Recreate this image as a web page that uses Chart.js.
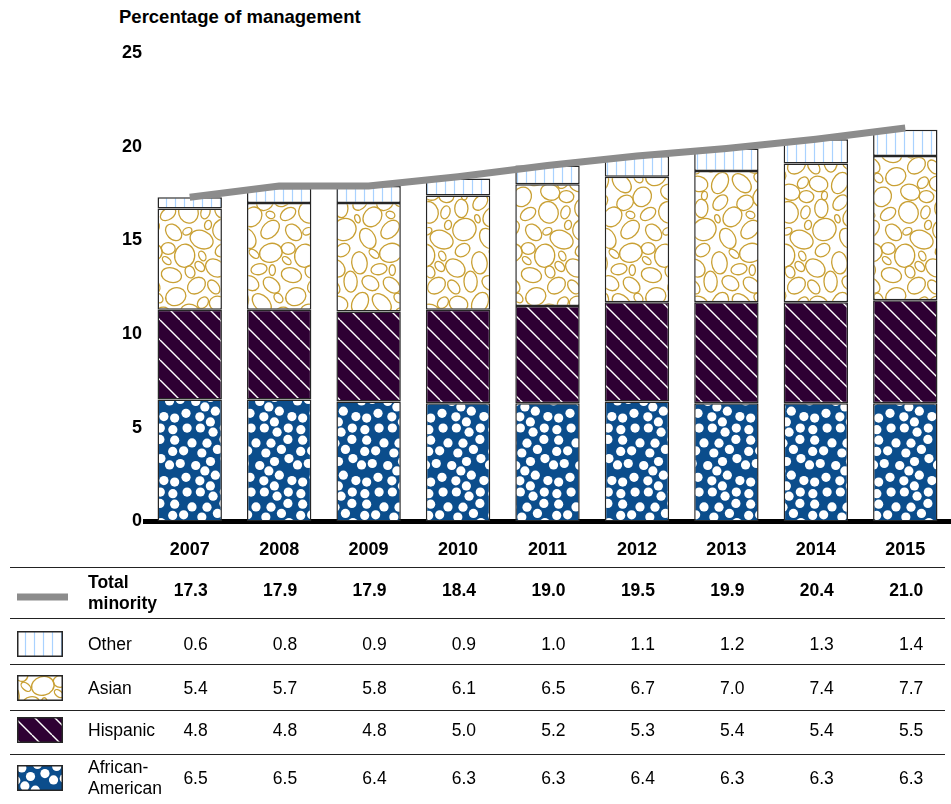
<!DOCTYPE html>
<html>
<head>
<meta charset="utf-8">
<script src="https://cdn.jsdelivr.net/npm/chart.js@4/dist/chart.umd.min.js"></script>
<style>
  body { margin: 0; background: #fff; font-family: "Liberation Sans", Arial, sans-serif; color: #000; }
  #wrap { position: relative; width: 951px; height: 804px; overflow: hidden; }
  #chartBox { position: absolute; left: 0; top: 0; width: 951px; height: 579px; }
  .title { position: absolute; left: 119px; top: 6px; font-size: 18.5px; font-weight: bold; }
  .rule { position: absolute; left: 10px; width: 935px; height: 0; border-top: 1.5px solid #222; }
  .cell { position: absolute; font-size: 17.5px; line-height: 21px; white-space: nowrap; }
  .val { text-align: right; width: 60px; }
  .bold { font-weight: bold; }
</style>
</head>
<body>
<div id="wrap">
  <div class="title">Percentage of management</div>
  <div id="chartBox"><canvas id="chart"></canvas></div>
</div>
<script>
// ======================= DATA =======================
const years = ['2007', '2008', '2009', '2010', '2011', '2012', '2013', '2014', '2015'];
const totalMinority = [17.3, 17.9, 17.9, 18.4, 19.0, 19.5, 19.9, 20.4, 21.0];
const other = [0.6, 0.8, 0.9, 0.9, 1.0, 1.1, 1.2, 1.3, 1.4];
const asian = [5.4, 5.7, 5.8, 6.1, 6.5, 6.7, 7.0, 7.4, 7.7];
const hispanic = [4.8, 4.8, 4.8, 5.0, 5.2, 5.3, 5.4, 5.4, 5.5];
const africanAmerican = [6.5, 6.5, 6.4, 6.3, 6.3, 6.4, 6.3, 6.3, 6.3];
const yTicks = [0, 5, 10, 15, 20, 25];

// ======================= PATTERNS =======================
// small seeded generator so the textures look the same each run
function seeded(seed) {
  let s = seed;
  return () => {
    s = (s * 16807) % 2147483647;
    return (s - 1) / 2147483646;
  };
}

function tile(size, draw) {
  const c = document.createElement('canvas');
  c.width = size; c.height = size;
  const ctx = c.getContext('2d');
  draw(ctx, size);
  return ctx.createPattern(c, 'repeat');
}

function scatter(size, count, minDist, rnd, sizer, maxTries) {
  const pts = [];
  let tries = 0;
  while (pts.length < count && tries < maxTries) {
    tries++;
    const p = { x: rnd() * size, y: rnd() * size, r: sizer(rnd, tries / maxTries) };
    const ok = pts.every(q => {
      let dx = Math.abs(p.x - q.x), dy = Math.abs(p.y - q.y);
      dx = Math.min(dx, size - dx); dy = Math.min(dy, size - dy);
      return Math.hypot(dx, dy) > p.r + q.r + minDist;
    });
    if (ok) pts.push(p);
  }
  return pts;
}

function wrapDraw(s, fn) {
  for (let ox = -s; ox <= s; ox += s) {
    for (let oy = -s; oy <= s; oy += s) fn(ox, oy);
  }
}

const dotsPattern = tile(64, (ctx, s) => {
  ctx.fillStyle = '#0b4d8c';
  ctx.fillRect(0, 0, s, s);
  ctx.fillStyle = '#ffffff';
  const pts = scatter(s, 46, 1.3, seeded(7), () => 4.6, 8000);
  pts.forEach(p => wrapDraw(s, (ox, oy) => {
    ctx.beginPath();
    ctx.arc(p.x + ox, p.y + oy, p.r, 0, Math.PI * 2);
    ctx.fill();
  }));
});

const stripesPattern = tile(20, (ctx, s) => {
  ctx.fillStyle = '#2e0033';
  ctx.fillRect(0, 0, s, s);
  ctx.strokeStyle = '#ffffff';
  ctx.lineWidth = 1.4;
  for (let x0 = -s; x0 <= s; x0 += s) {
    ctx.beginPath();
    ctx.moveTo(x0, 0);
    ctx.lineTo(x0 + s, s);
    ctx.stroke();
  }
});

// pebbles: big ones first, then smaller ones fill the gaps
const pebblesPattern = tile(120, (ctx, s) => {
  ctx.fillStyle = '#ffffff';
  ctx.fillRect(0, 0, s, s);
  ctx.strokeStyle = '#c9a034';
  ctx.lineWidth = 1.3;
  const rnd = seeded(42);
  const pts = scatter(s, 400, 1.2, rnd, (r, t) => 3 + (1 - t) * 5 + r() * 3, 30000);
  pts.forEach(p => {
    const rx = p.r + 1;
    const ry = p.r * (0.7 + rnd() * 0.3);
    const rot = rnd() * Math.PI;
    wrapDraw(s, (ox, oy) => {
      ctx.beginPath();
      ctx.ellipse(p.x + ox, p.y + oy, rx, ry, rot, 0, Math.PI * 2);
      ctx.stroke();
    });
  });
});

const verticalPattern = tile(9, (ctx, s) => {
  ctx.fillStyle = '#ffffff';
  ctx.fillRect(0, 0, s, s);
  ctx.strokeStyle = '#a9d2ff';
  ctx.lineWidth = 1.2;
  ctx.beginPath();
  ctx.moveTo(4.5, 0);
  ctx.lineTo(4.5, s);
  ctx.stroke();
});

// ======================= CHART =======================
const edge = '#262626';
const tickFont = { family: '"Liberation Sans", Arial', size: 18, weight: 'bold' };
const barStyle = {
  borderColor: edge,
  borderWidth: 1.5,
  borderSkipped: false,
  stack: 'groups',
  order: 1,
  barPercentage: 0.72,
  categoryPercentage: 1.0
};

const chart = new Chart(document.getElementById('chart'), {
  data: {
    labels: years,
    datasets: [
      { type: 'bar', label: 'African-American', data: africanAmerican, backgroundColor: dotsPattern, ...barStyle },
      { type: 'bar', label: 'Hispanic', data: hispanic, backgroundColor: stripesPattern, ...barStyle },
      { type: 'bar', label: 'Asian', data: asian, backgroundColor: pebblesPattern, ...barStyle },
      { type: 'bar', label: 'Other', data: other, backgroundColor: verticalPattern, ...barStyle },
      {
        type: 'line',
        label: 'Total minority',
        data: totalMinority,
        borderColor: '#8c8c8c',
        borderWidth: 7,
        pointRadius: 0,
        tension: 0,
        stack: 'line',
        order: 0
      }
    ]
  },
  options: {
    responsive: true,
    maintainAspectRatio: false,
    animation: false,
    layout: { padding: { top: 53, right: 1, left: 0, bottom: 0 } },
    plugins: {
      legend: { display: false },
      tooltip: { enabled: false }
    },
    scales: {
      x: {
        stacked: true,
        grid: { display: false, drawTicks: false },
        border: { display: true, color: '#000', width: 5 },
        ticks: { color: '#000', padding: 18, font: tickFont }
      },
      y: {
        stacked: true,
        min: 0,
        max: 25,
        afterBuildTicks: (axis) => { axis.ticks = yTicks.map(v => ({ value: v })); },
        afterFit: (axis) => { axis.width = 145; },
        grid: { display: false, drawTicks: false },
        border: { display: false },
        ticks: { color: '#000', padding: 3, font: tickFont }
      }
    }
  }
});

// ======================= DATA TABLE =======================
const wrap = document.getElementById('wrap');
const rules = [567, 618, 664, 710, 754];
rules.forEach(y => {
  const d = document.createElement('div');
  d.className = 'rule';
  d.style.top = y + 'px';
  wrap.appendChild(d);
});

const rows = [
  { label: 'Total<br>minority', values: totalMinority, bold: true, mid: 593, swatch: 'line' },
  { label: 'Other', values: other, mid: 644, swatch: verticalPattern },
  { label: 'Asian', values: asian, mid: 688, swatch: pebblesPattern },
  { label: 'Hispanic', values: hispanic, mid: 730, swatch: stripesPattern },
  { label: 'African-<br>American', values: africanAmerican, mid: 778, swatch: dotsPattern }
];

const xScale = chart.scales.x;
rows.forEach(row => {
  // swatch
  const sw = document.createElement('canvas');
  sw.width = 56; sw.height = 30;
  sw.style.position = 'absolute';
  sw.style.left = '12px';
  sw.style.top = (row.mid - 15) + 'px';
  const c = sw.getContext('2d');
  if (row.swatch === 'line') {
    c.strokeStyle = '#8c8c8c';
    c.lineWidth = 7;
    c.beginPath(); c.moveTo(5, 19); c.lineTo(56, 19); c.stroke();
  } else {
    c.fillStyle = row.swatch;
    c.fillRect(5, 2, 46, 26);
    c.strokeStyle = edge;
    c.lineWidth = 1.5;
    c.strokeRect(5.75, 2.75, 44.5, 24.5);
  }
  wrap.appendChild(sw);

  // label
  const lab = document.createElement('div');
  lab.className = 'cell' + (row.bold ? ' bold' : '');
  lab.innerHTML = row.label;
  lab.style.left = '88px';
  const lines = row.label.includes('<br>') ? 2 : 1;
  lab.style.top = (row.mid - lines * 10.5) + 'px';
  wrap.appendChild(lab);

  // values
  row.values.forEach((v, i) => {
    const cell = document.createElement('div');
    cell.className = 'cell val' + (row.bold ? ' bold' : '');
    cell.textContent = v.toFixed(1);
    cell.style.left = (xScale.getPixelForValue(i) + 18 - 60) + 'px';
    cell.style.top = (row.mid - (row.bold ? 13 : 10.5)) + 'px';
    wrap.appendChild(cell);
  });
});
</script>
</body>
</html>
